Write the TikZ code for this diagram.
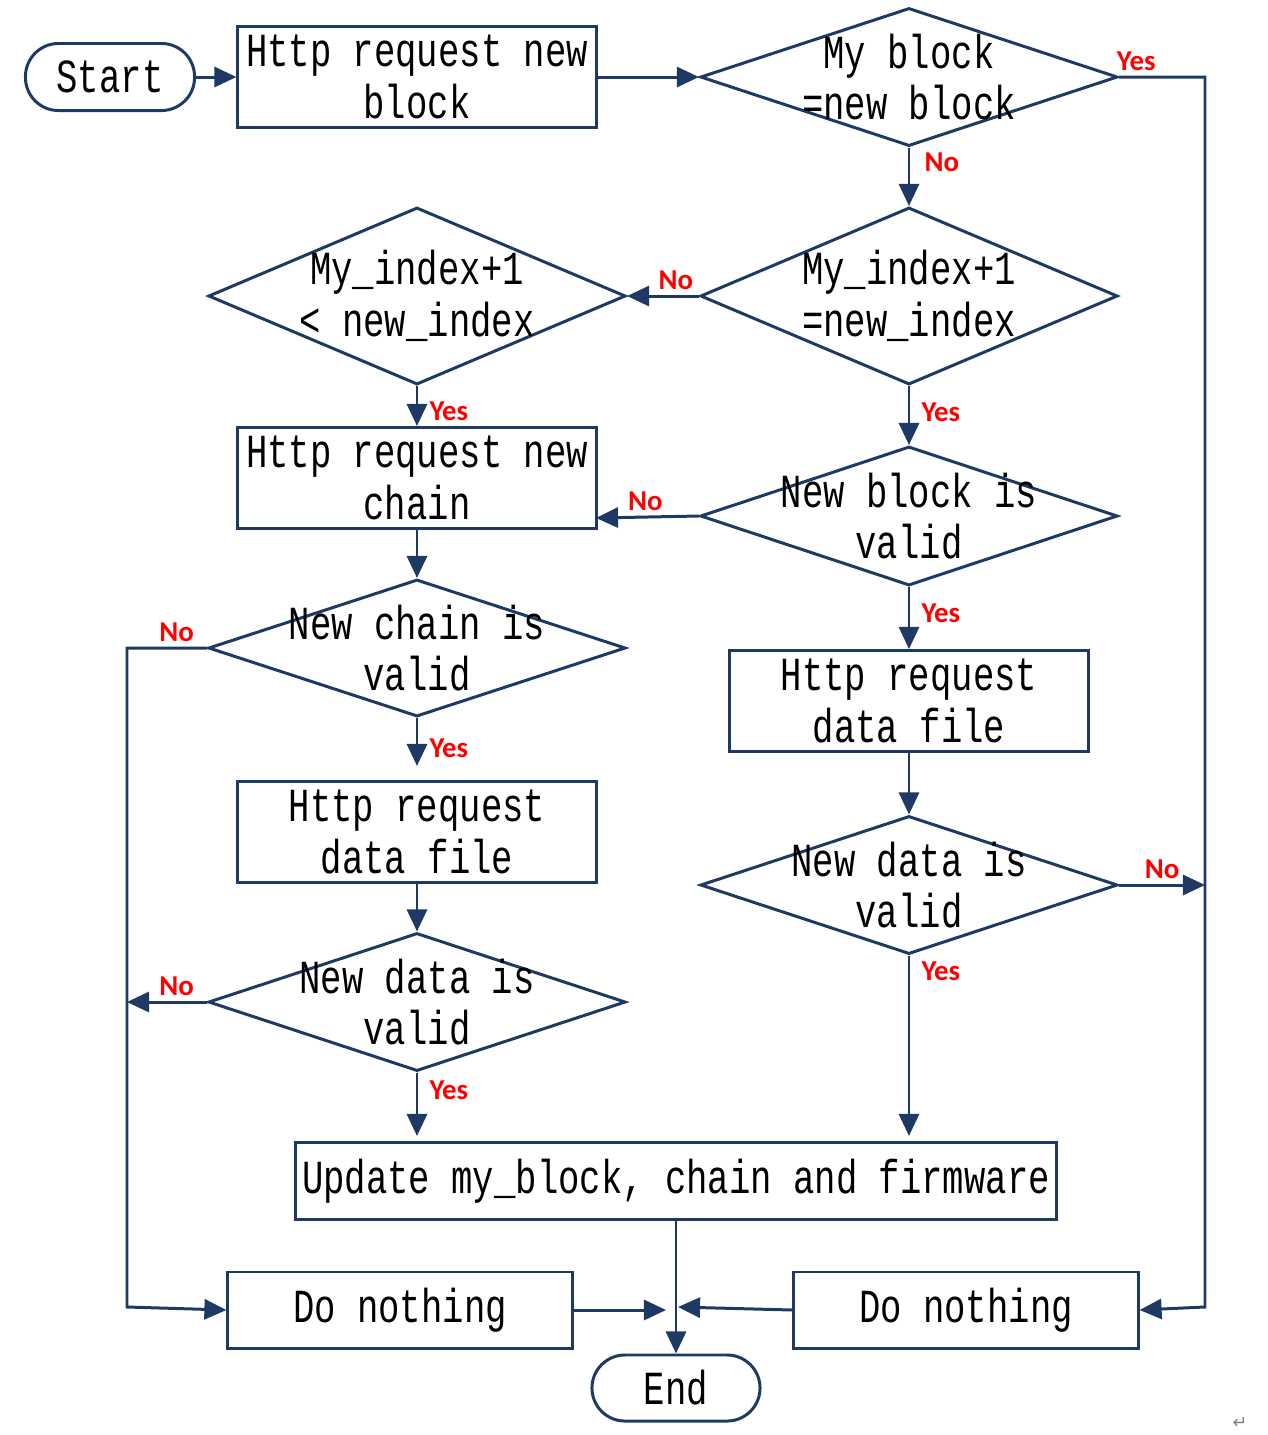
\documentclass[tikz,border=0pt]{standalone}
\usepackage{fontspec}
\usetikzlibrary{shapes.geometric,arrows.meta}
\newfontfamily\boxfont[FakeStretch=0.75]{Liberation Mono}
\newfontfamily\tagfont{Carlito}
\newfontfamily\markfont{DejaVu Sans}
\definecolor{flowblue}{RGB}{30,57,100}
\definecolor{tagred}{RGB}{255,0,0}
\tikzset{
  flow/.style={draw=flowblue, line width=0.85pt, inner sep=0pt},
  txt/.style={font=\boxfont\fontsize{13.5}{14.6}\selectfont, align=center, inner sep=0pt},
  term/.style={flow, txt, rounded corners=0.33cm, minimum width=1.69cm, minimum height=0.67cm},
  proc/.style={flow, txt, minimum width=3.58cm, minimum height=1.01cm},
  dec/.style={flow, diamond, minimum width=4.17cm, minimum height=1.38cm},
  arr/.style={draw=flowblue, line width=0.85pt, -{Triangle[length=0.22cm,width=0.2cm]}},
  tag/.style={font=\tagfont\bfseries\fontsize{8.2}{9}\selectfont, text=tagred, inner sep=0pt}
}
\begin{document}
\begin{tikzpicture}[x=0.01cm,y=-0.01cm]
    \useasboundingbox (0,0) rectangle (1268,1435);
    % left column
    \node[term] (start) at (110,77) {Start};
    \node[proc] (req1) at (417,77) {Http request new\\block};
    \node[dec, minimum height=1.77cm] (d3) at (417,296) {};
    \node[txt] (d3t) at (d3) {My\_index+1\\< new\_index};
    \node[proc] (req2) at (417,478) {Http request new\\chain};
    \node[dec, minimum height=1.37cm] (d5) at (417,648) {};
    \node[txt] (d5t) at (d5) {New chain is\\valid};
    \node[proc] (req3) at (417,832) {Http request\\data file};
    \node[dec] (d6) at (417,1002) {};
    \node[txt] (d6t) at (d6) {New data is\\valid};
    % right column
    \node[dec] (d1) at (909,77) {};
    \node[txt] (d1t) at (d1) {My block\\=new block};
    \node[dec, minimum height=1.77cm] (d2) at (909,296) {};
    \node[txt] (d2t) at (d2) {My\_index+1\\=new\_index};
    \node[dec, minimum height=1.39cm] (d4) at (909,516) {};
    \node[txt] (d4t) at (d4) {New block is\\valid};
    \node[proc] (req4) at (909,701) {Http request\\data file};
    \node[dec] (d7) at (909,885) {};
    \node[txt] (d7t) at (d7) {New data is\\valid};
    % bottom
    \node[proc, minimum width=7.61cm, minimum height=0.77cm] (upd) at (676,1181) {Update my\_block, chain and firmware};
    \node[proc, minimum width=3.44cm, minimum height=0.76cm] (dnl) at (400,1310) {Do nothing};
    \node[proc, minimum width=3.44cm, minimum height=0.76cm] (dnr) at (966,1310) {Do nothing};
    \node[term, minimum width=1.68cm, minimum height=0.66cm] (end) at (676,1388) {End};
    \coordinate (lline) at (127,1307);
    \coordinate (rline) at (1205,1307);
    \coordinate (jl) at (666,1310);
    \coordinate (jr) at (678,1307);
    \coordinate (req2in) at (596,518);
    % connectors
    \draw[arr] (start) -- (req1);
    \draw[arr] (req1) -- (d1);
    \draw[arr] (d1.east) -| node[tag, pos=0.1, above=0.05cm] (y1) {Yes} (rline) -- (dnr.east);
    \draw[arr] (d1.south) -- node[tag, pos=0.25, right=0.14cm] (n1) {No} (d2.north);
    \draw[arr] (d2.west) -- node[tag, pos=0.32, above=0.05cm] (n2) {No} (d3.east);
    \draw[arr] (d3.south) -- node[tag, pos=0.63, right=0.11cm] (y3) {Yes} (req2.north);
    \draw[arr] (d2.south) -- node[tag, pos=0.44, right=0.11cm] (y2) {Yes} (d4.north);
    \draw[arr] (d4.west) -- node[tag, pos=0.52, above=0.05cm] (n4) {No} (req2in);
    \draw[arr] (d4.south) -- node[tag, pos=0.42, right=0.11cm] (y4) {Yes} (req4.north);
    \draw[arr] (req2.south) -- (d5.north);
    \draw[arr] (d5.west) -| node[tag, pos=0.19, above=0.05cm] (n5) {No} (lline) -- (dnl.west);
    \draw[arr, shorten >=0.14cm] (d5.south) -- node[tag, pos=0.48, right=0.11cm] (y5) {Yes} (req3.north);
    \draw[arr] (req3.south) -- (d6.north);
    \draw[arr] (d6.west) -- node[tag, pos=0.38, above=0.05cm] (n6) {No} (d6.west -| lline);
    \draw[arr, shorten >=0.05cm] (d6.south) -- node[tag, pos=0.26, right=0.11cm] (y6) {Yes} (upd.north -| d6.south);
    \draw[arr] (req4.south) -- (d7.north);
    \draw[arr] (d7.east) -- node[tag, pos=0.5, above=0.05cm] (n7) {No} (d7.east -| rline);
    \draw[arr, shorten >=0.05cm] (d7.south) -- node[tag, pos=0.085, right=0.11cm] (y7) {Yes} (upd.north -| d7.south);
    \draw[arr] (upd.south) -- (end.north);
    \draw[arr] (dnl.east) -- (jl);
    \draw[arr] (dnr.west) -- (jr);
    \node[font=\markfont\fontsize{5}{6}\selectfont, text=gray] (mark) at (1240,1423) {↵};
\end{tikzpicture}
\end{document}
